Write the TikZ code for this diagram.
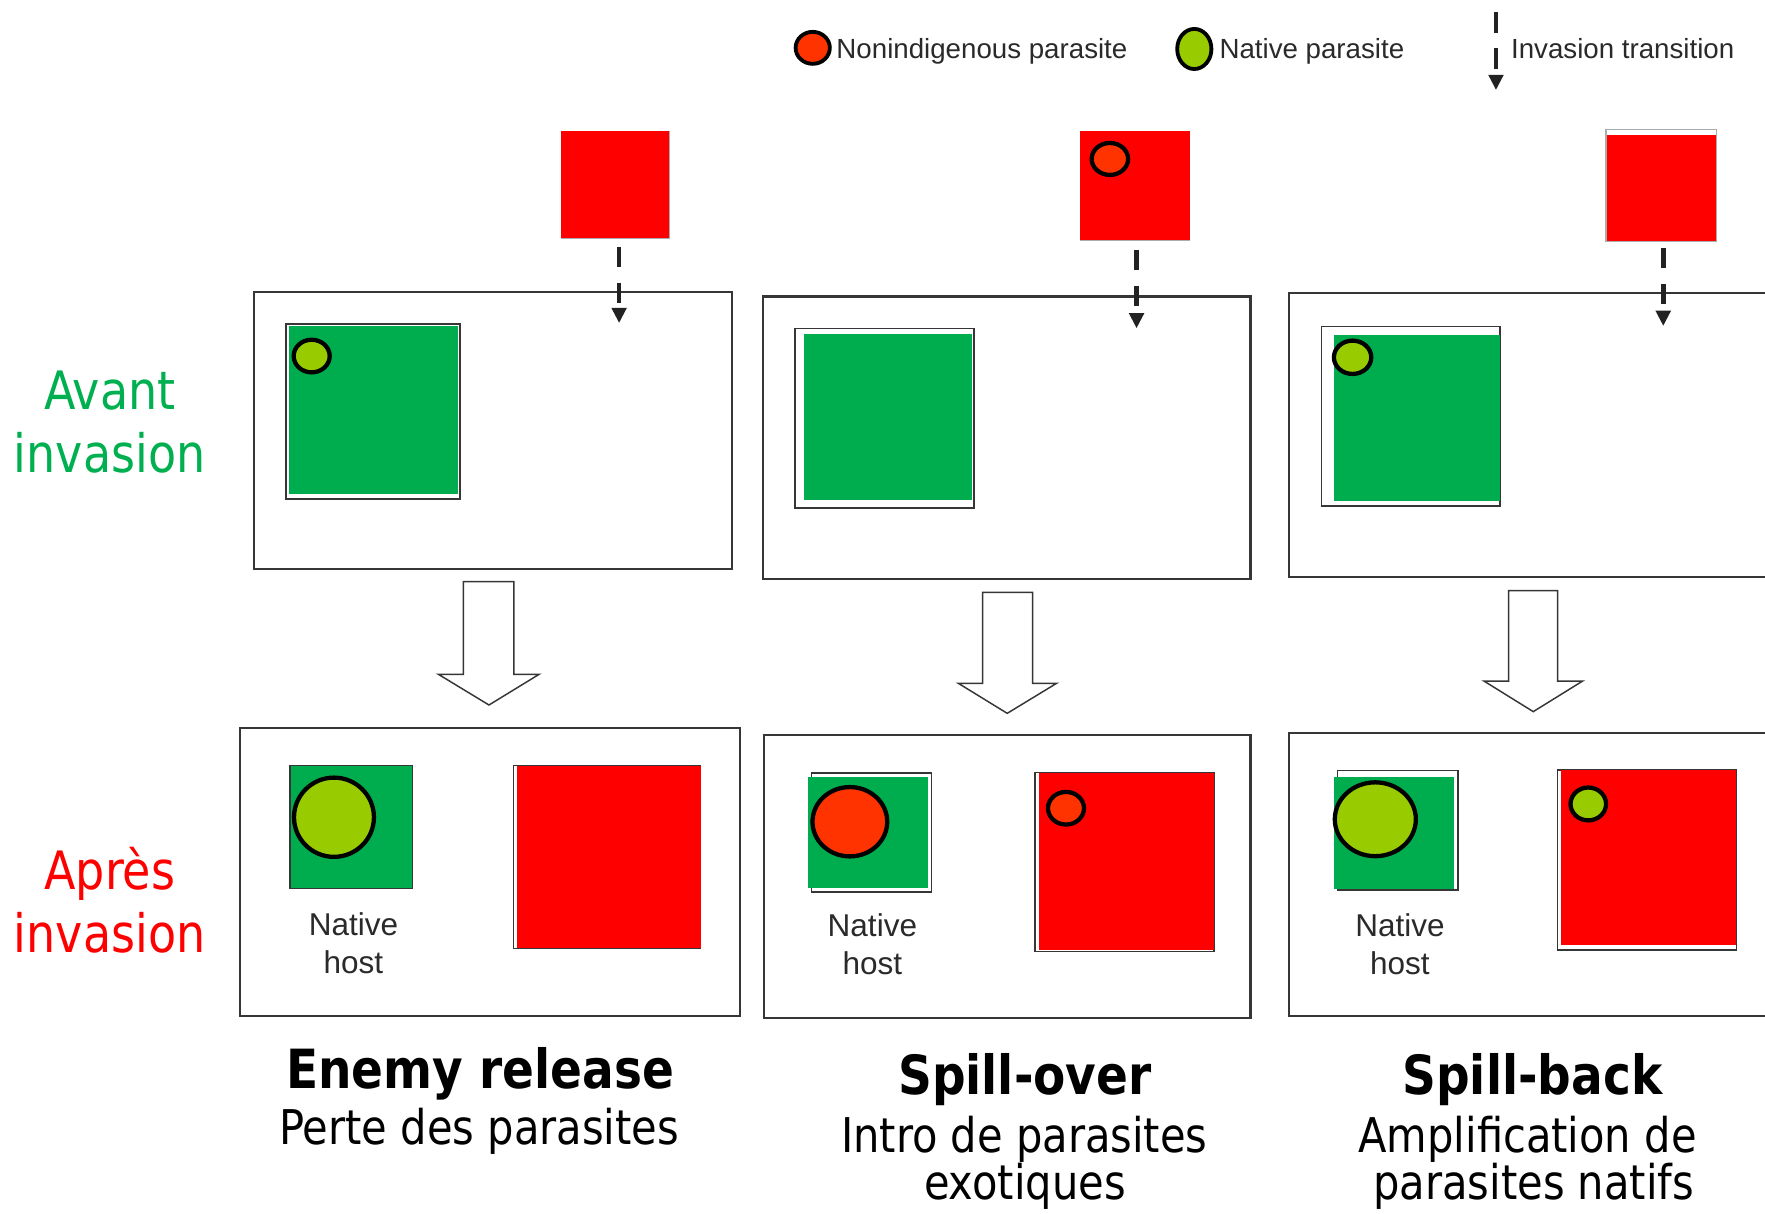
\documentclass[tikz,border=0pt]{standalone}
\usepackage{fontspec}
\usetikzlibrary{arrows.meta}
\newfontfamily\tahfont[FakeStretch=0.87]{DejaVu Sans}
\newfontfamily\arifont{Liberation Sans}
\definecolor{framegray}{HTML}{363636}
\definecolor{hostgreen}{HTML}{00AD4E}
\definecolor{natgreen}{HTML}{99CC00}
\definecolor{exored}{HTML}{FF3300}
\definecolor{invred}{HTML}{FF0000}
\definecolor{avgreen}{HTML}{00B050}
\definecolor{apred}{HTML}{FF0000}
\definecolor{legendgray}{HTML}{2A2A2A}
\definecolor{arrowgray}{HTML}{222222}
\begin{document}
\begin{tikzpicture}[x=0.5pt,y=-0.5pt,
  panel/.style={draw=framegray, line width=1pt, fill=white},
  hostframe/.style={draw=framegray, line width=0.75pt, fill=white},
  hostfill/.style={fill=hostgreen},
  invsq/.style={fill=invred},
  invedge/.style={draw=gray!65, line width=0.6pt},
  natpar/.style={fill=natgreen, draw=black, line width=1.9pt},
  exopar/.style={fill=exored, draw=black, line width=1.9pt},
  invarrow/.style={draw=arrowgray, line width=2pt, dash pattern=on 9pt off 7pt, -{Triangle[width=6.4pt,length=6.8pt]}},
  blockarrow/.style={draw=framegray, line width=0.65pt, fill=white, line join=miter},
  legtext/.style={font=\arifont\fontsize{12.3}{14}\selectfont, text=legendgray, inner sep=0pt, anchor=base west},
  hosttext/.style={font=\arifont\fontsize{14}{16}\selectfont, text=legendgray, inner sep=0pt, anchor=base},
  sidelab/.style={font=\tahfont\fontsize{23.5}{28}\selectfont, inner sep=0pt, anchor=base},
  captb/.style={font=\tahfont\bfseries\fontsize{24}{28}\selectfont, inner sep=0pt, anchor=base},
  captr/.style={font=\tahfont\fontsize{21.25}{25}\selectfont, inner sep=0pt, anchor=base}]

\useasboundingbox (0,0) rectangle (1568,1078);
\fill[white] (0,0) rectangle (1568,1078);
\clip (0,0) rectangle (1568,1078);

% ---------------- Legend ----------------
\draw[exopar, line width=1.7pt] (722,42.5) ellipse [x radius=7.6pt, y radius=7.1pt];
\node[legtext] (lgexo) at (742.7,52) {Nonindigenous parasite};
\draw[natpar, line width=1.7pt] (1061,43.5) ellipse [x radius=7.6pt, y radius=8.9pt];
\node[legtext] (lgnat) at (1083,52) {Native parasite};
\coordinate (lgs) at (1329,11);
\coordinate (lge) at (1329,80);
\draw[invarrow] (lgs) -- (lge);
\node[legtext] (lginv) at (1342,52) {Invasion transition};

% ---------------- Side labels ----------------
\node[sidelab, text=avgreen] (av1) at (97.5,364) {Avant};
\node[sidelab, text=avgreen] (av2) at (97.5,420) {invasion};
\node[sidelab, text=apred] (ap1) at (97.5,790) {Après};
\node[sidelab, text=apred] (ap2) at (97.5,846) {invasion};

% ================= Column 1 : Enemy release =================
\fill[invsq] (498.5,116) rectangle (595,211.6);
\draw[invedge] (595,116) -- (595,211.6) -- (498.5,211.6);
\draw[panel] (225.7,259.6) rectangle (650,505.6);
\draw[hostframe] (254,288) rectangle (408.6,443);
\fill[hostfill] (257,290) rectangle (407,439);
\draw[natpar] (276.9,316.3) ellipse [x radius=8pt, y radius=7.25pt];
\coordinate (c1s) at (550,219);
\coordinate (c1e) at (550,287);
\draw[invarrow] (c1s) -- (c1e);
\draw[blockarrow] (411.6,516.7) -- (456.6,516.7) -- (456.6,599) -- (479,599) -- (434.4,626.3) -- (389.4,599) -- (411.6,599) -- cycle;
\draw[panel] (213,646.4) rectangle (657.4,902.5);
\draw[hostframe] (257.6,680.2) rectangle (366.3,789.1);
\fill[hostfill] (258.2,680.8) rectangle (366,789);
\draw[natpar] (296.7,726) ellipse [x radius=17.75pt, y radius=17.6pt];
\node[hosttext] (nh1a) at (314,831) {Native};
\node[hosttext] (nh1b) at (314,865) {host};
\draw[hostframe, line width=0.6pt] (456,680.2) rectangle (621.8,842.4);
\fill[invsq] (459,680.2) rectangle (622.4,842.4);
\node[captb] (t1) at (426.5,967) {Enemy release};
\node[captr] (s1) at (425.7,1017) {Perte des parasites};

% ================= Column 2 : Spill-over =================
\fill[invsq] (959.4,116) rectangle (1057.1,213.8);
\draw[invedge] (959.4,213.8) -- (1057.1,213.8);
\draw[exopar] (986,141.2) ellipse [x radius=8.1pt, y radius=7.1pt];
\draw[panel] (678,263.5) rectangle (1111,514.3);
\draw[hostframe] (706.2,291.7) rectangle (865.2,451);
\fill[hostfill] (714.2,296.7) rectangle (863.2,444.2);
\coordinate (c2s) at (1009.7,222);
\coordinate (c2e) at (1009.7,291.7);
\draw[invarrow] (c2s) -- (c2e);
\draw[blockarrow] (873,526.2) -- (917.4,526.2) -- (917.4,607) -- (938.7,607) -- (894.8,633.7) -- (851.3,607) -- (873,607) -- cycle;
\draw[panel] (678.7,653) rectangle (1111,904.6);
\draw[hostframe] (721,686.4) rectangle (827.6,792.7);
\fill[hostfill] (718,690.5) rectangle (824.7,789.1);
\draw[exopar] (755,730) ellipse [x radius=16.6pt, y radius=15.4pt];
\node[hosttext] (nh2a) at (775,832) {Native};
\node[hosttext] (nh2b) at (775,866) {host};
\draw[hostframe, line width=0.6pt] (919.4,686.4) rectangle (1078.4,845.4);
\fill[invsq] (922.7,687) rectangle (1078.4,843.9);
\draw[exopar] (947,718) ellipse [x radius=8pt, y radius=7.25pt];
\node[captb] (t2) at (910.5,972) {Spill-over};
\node[captr] (s2a) at (910,1024) {Intro de parasites};
\node[captr] (s2b) at (910.5,1066) {exotiques};

% ================= Column 3 : Spill-back =================
\draw[invedge, fill=white] (1426.7,115) rectangle (1525,214.7);
\fill[invsq] (1427.5,120) rectangle (1524.2,214.2);
\draw[panel] (1145.3,260.6) rectangle (1620,512.3);
\draw[hostframe] (1174,290) rectangle (1332.5,449.5);
\fill[hostfill] (1185,297.6) rectangle (1333,444.8);
\draw[natpar] (1201.6,317.4) ellipse [x radius=8.3pt, y radius=7.4pt];
\coordinate (c3s) at (1477.6,220);
\coordinate (c3e) at (1477.6,289.6);
\draw[invarrow] (c3s) -- (c3e);
\draw[blockarrow] (1340.2,524.7) -- (1383.7,524.7) -- (1383.7,605) -- (1406,605) -- (1362.1,632.2) -- (1318.3,605) -- (1340.2,605) -- cycle;
\draw[panel] (1145.3,651.5) rectangle (1620,902.5);
\draw[hostframe] (1188.3,684.6) rectangle (1295.5,790.6);
\fill[hostfill] (1185,690.5) rectangle (1291.7,789.8);
\draw[natpar] (1221.8,727.8) ellipse [x radius=18pt, y radius=16.4pt];
\node[hosttext] (nh3a) at (1243.7,832) {Native};
\node[hosttext] (nh3b) at (1243.7,866) {host};
\draw[hostframe, line width=0.6pt] (1383.4,684) rectangle (1542.7,844);
\fill[invsq] (1386.6,684) rectangle (1542.2,839.5);
\draw[natpar] (1411,714.2) ellipse [x radius=7.9pt, y radius=7.3pt];
\node[captb] (t3) at (1361.3,972) {Spill-back};
\node[captr] (s3a) at (1357,1024) {Amplification de};
\node[captr] (s3b) at (1362.5,1066) {parasites natifs};
\end{tikzpicture}
\end{document}
